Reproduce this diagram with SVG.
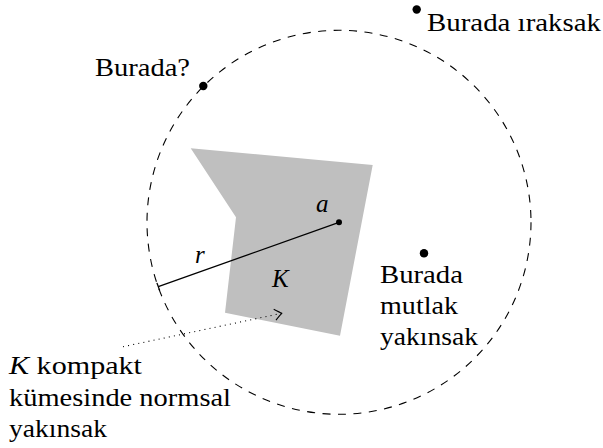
<svg xmlns="http://www.w3.org/2000/svg" width="603" height="448" viewBox="0 0 603 448">
<style>
.lbl{font-size:25px;fill:#000}
.it{font-style:italic}
.dot{fill:#000}
.ln{fill:none;stroke:#000}
</style>
<rect width="603" height="448" fill="#fff"/>
<g id="K-set">
<polygon points="190.7,148.3 372.7,165 340,335.7 225,312.7 236,217.3" fill="#bfbfbf"/>
<text class="lbl it" x="272" y="287" font-family="Liberation Serif, Times New Roman, serif">K</text>
</g>
<g id="disk">
<circle class="ln" cx="339" cy="222.3" r="192" stroke-width="1.1" stroke-dasharray="8 7.5"/>
</g>
<g id="connectors">
<line class="ln" x1="339" y1="222.3" x2="158.3" y2="286.7" stroke-width="1.3"/>
<line class="ln" x1="156.9" y1="282.9" x2="159.7" y2="290.5" stroke-width="1.3"/>
<line class="ln" x1="123" y1="346.7" x2="281.7" y2="313.3" stroke-width="1.1" stroke-dasharray="1 4.2"/>
<path class="ln" d="M -7,-5.5 Q -1.5,-1 0,0 Q -1.5,1 -7,5.5" stroke-width="1.1" transform="translate(281.7,313.3) rotate(-11.9)"/>
</g>
<g id="center-a">
<circle class="dot" cx="339" cy="222.3" r="3"/>
<text class="lbl it" x="316" y="212" font-family="Liberation Serif, Times New Roman, serif">a</text>
</g>
<g id="radius-r">
<text class="lbl it" x="195" y="263" font-family="Liberation Serif, Times New Roman, serif">r</text>
</g>
<g id="point-boundary">
<circle class="dot" cx="203.3" cy="86" r="4.2"/>
<text class="lbl" x="95" y="76" textLength="95" lengthAdjust="spacingAndGlyphs" font-family="Liberation Serif, Times New Roman, serif">Burada?</text>
</g>
<g id="point-divergent">
<circle class="dot" cx="416.7" cy="9.5" r="4.2"/>
<text class="lbl" x="427" y="31" textLength="174" lengthAdjust="spacingAndGlyphs" font-family="Liberation Serif, Times New Roman, serif">Burada ıraksak</text>
</g>
<g id="point-absolute">
<circle class="dot" cx="424" cy="253.3" r="4.2"/>
<text class="lbl" x="380" y="283" textLength="83" lengthAdjust="spacingAndGlyphs" font-family="Liberation Serif, Times New Roman, serif">Burada</text>
<text class="lbl" x="380" y="314" textLength="78" lengthAdjust="spacingAndGlyphs" font-family="Liberation Serif, Times New Roman, serif">mutlak</text>
<text class="lbl" x="380" y="345" textLength="98" lengthAdjust="spacingAndGlyphs" font-family="Liberation Serif, Times New Roman, serif">yakınsak</text>
</g>
<g id="compact-label">
<text class="lbl" x="9" y="374" textLength="133" lengthAdjust="spacingAndGlyphs" font-family="Liberation Serif, Times New Roman, serif"><tspan class="it">K</tspan> kompakt</text>
<text class="lbl" x="9" y="405.5" textLength="222" lengthAdjust="spacingAndGlyphs" font-family="Liberation Serif, Times New Roman, serif">kümesinde normsal</text>
<text class="lbl" x="9" y="437" textLength="98" lengthAdjust="spacingAndGlyphs" font-family="Liberation Serif, Times New Roman, serif">yakınsak</text>
</g>
</svg>
